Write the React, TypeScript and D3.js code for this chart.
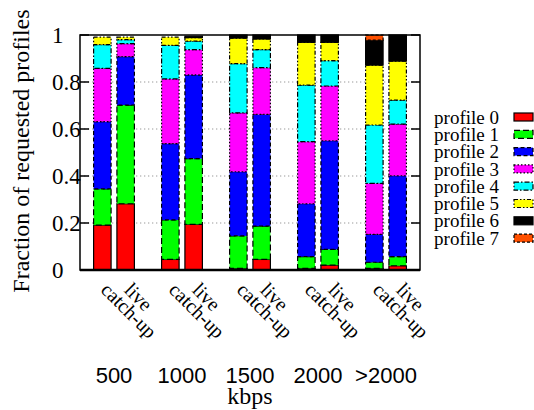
import React from "react";
import * as d3 from "d3";

const groups = ["500", "1000", "1500", "2000", ">2000"];
const modes = ["catch-up", "live"];
const profiles = ["profile 0", "profile 1", "profile 2", "profile 3", "profile 4", "profile 5", "profile 6", "profile 7"];
// bar order: 500 catch-up, 500 live, 1000 catch-up, 1000 live, ...
const p0 = [0.191, 0.282, 0.045, 0.194, 0.007, 0.045, 0.007, 0.021, 0.007, 0.018];
const p1 = [0.154, 0.42, 0.168, 0.28, 0.138, 0.142, 0.05, 0.067, 0.026, 0.039];
const p2 = [0.286, 0.206, 0.325, 0.356, 0.273, 0.475, 0.225, 0.462, 0.119, 0.344];
const p3 = [0.227, 0.055, 0.275, 0.108, 0.251, 0.199, 0.264, 0.233, 0.217, 0.22];
const p4 = [0.101, 0.017, 0.143, 0.036, 0.209, 0.077, 0.241, 0.108, 0.248, 0.102];
const p5 = [0.032, 0.011, 0.035, 0.015, 0.109, 0.045, 0.182, 0.078, 0.255, 0.166];
const p6 = [0.0, 0.0, 0.0, 0.006, 0.013, 0.017, 0.031, 0.031, 0.106, 0.111];
const p7 = [0, 0, 0, 0, 0, 0, 0, 0, 0.022, 0];
const series = [p0, p1, p2, p3, p4, p5, p6, p7];
const yTicks = [0, 0.2, 0.4, 0.6, 0.8, 1];

const colors = ["#ff0000", "#00ff00", "#0000ff", "#ff00ff", "#00ffff", "#ffff00", "#000000", "#ff5000"];
const dashes = ["none", "6,3", "4,2.5", "1.5,2", "5,2,1.5,2", "4,2,1.5,2,1.5,2", "none", "3,2"];

export default function App() {
  const L = 80, R = 420, T = 35, B = 270;
  const x0 = d3.scaleBand().domain(groups).range([L, R]).paddingInner(0.4).paddingOuter(0.2);
  const x1 = d3.scaleBand().domain(modes).range([0, x0.bandwidth()]).paddingInner(0.25);
  const y = d3.scaleLinear().domain([0, 1]).range([B, T]);

  const bars: any[] = [];
  groups.forEach((g, gi) => {
    modes.forEach((m, mi) => {
      const idx = gi * 2 + mi;
      let cum = 0;
      series.forEach((s, si) => {
        const v = s[idx];
        if (v <= 0) return;
        const y0 = cum, y1 = cum + v;
        cum = y1;
        bars.push(
          <rect key={`${idx}-${si}`} x={(x0(g) as number) + (x1(m) as number)} width={x1.bandwidth()}
            y={y(y1)} height={y(y0) - y(y1)} fill={colors[si]} stroke="#000" strokeWidth={1.2}
            strokeDasharray={dashes[si]} />
        );
      });
    });
  });

  const serif = "'Liberation Serif', 'Times New Roman', serif";
  const sans = "'Liberation Sans', Arial, sans-serif";

  return (
    <svg width={534} height={410} style={{ position: "absolute", left: 0, top: 0, background: "#fff" }}>
      {yTicks.filter(t => t > 0 && t < 1).map(t => (
        <line key={`g${t}`} x1={L} x2={R} y1={y(t)} y2={y(t)} stroke="#999" strokeWidth={1.2} strokeDasharray="1.3,2.7" />
      ))}
      {bars}
      {yTicks.map(t => (
        <g key={`t${t}`}>
          <line x1={L} x2={L + 9} y1={y(t)} y2={y(t)} stroke="#000" strokeWidth={1.5} />
          <line x1={R - 9} x2={R} y1={y(t)} y2={y(t)} stroke="#000" strokeWidth={1.5} />
          <text x={52} y={y(t)} dy="0.35em" fontFamily={serif} fontSize={23} fill="#000">{String(t)}</text>
        </g>
      ))}
      <rect x={L} y={T} width={R - L} height={B - T} fill="none" stroke="#000" strokeWidth={1.5} />
      <line x1={L} x2={R} y1={B} y2={B} stroke="#000" strokeWidth={2.5} />
      <text transform={`translate(29,151) rotate(-90)`} textAnchor="middle" fontFamily={serif} fontSize={24} fill="#000">
        Fraction of requested profiles
      </text>
      {groups.map(g => modes.map(m => {
        const cx = (x0(g) as number) + (x1(m) as number) + x1.bandwidth() / 2;
        return (
          <text key={`${g}-${m}`} transform={`translate(${cx - 2.5},291) rotate(45)`} fontFamily={serif} fontSize={20} fill="#000">{m}</text>
        );
      }))}
      {groups.map(g => (
        <text key={`lab${g}`} x={(x0(g) as number) + x0.bandwidth() / 2} y={383} textAnchor="middle" fontFamily={sans} fontSize={22} fill="#000">{g}</text>
      ))}
      <text x={(L + R) / 2} y={404} textAnchor="middle" fontFamily={serif} fontSize={24} fill="#000">kbps</text>
      {profiles.map((p, i) => {
        const cy = 117 + i * 17.3;
        return (
          <g key={p}>
            <text x={499} y={cy} dy="0.35em" textAnchor="end" fontFamily={serif} fontSize={19} fill="#000">{p}</text>
            <rect x={514} y={cy - 4} width={19} height={8} fill={colors[i]} stroke="#000" strokeWidth={1.2} strokeDasharray={dashes[i]} />
          </g>
        );
      })}
    </svg>
  );
}
